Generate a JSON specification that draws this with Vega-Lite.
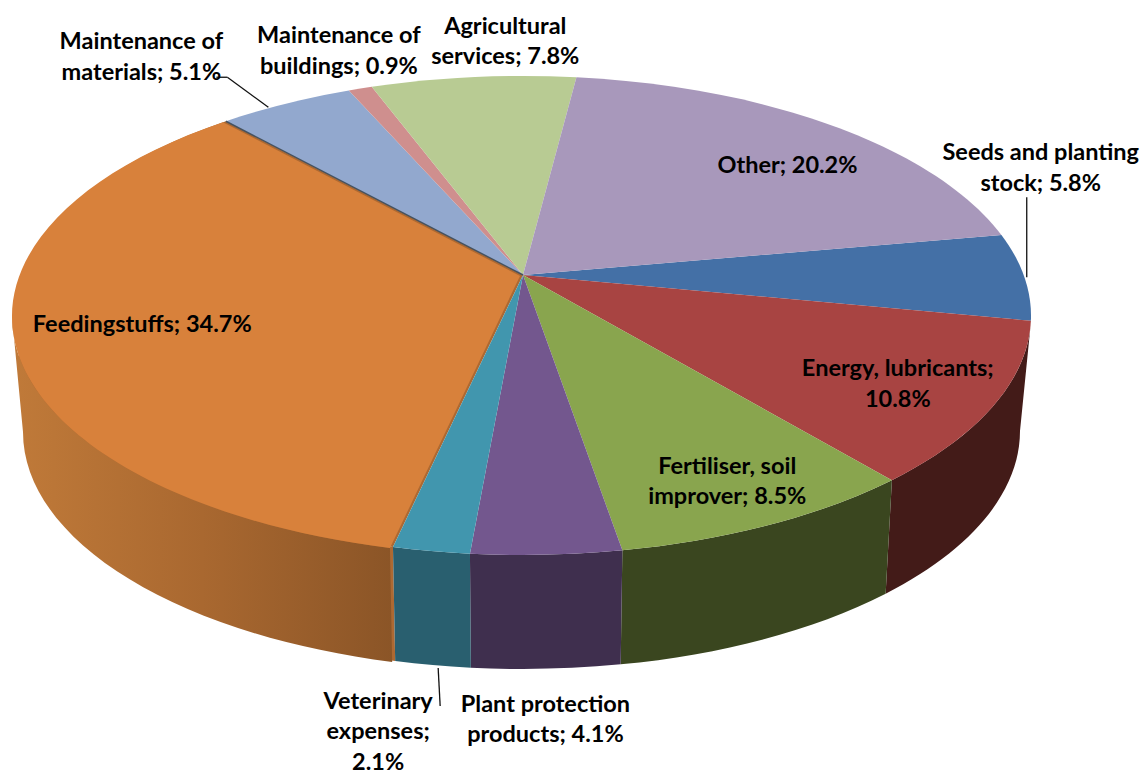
{
"$schema":"https://vega.github.io/schema/vega-lite/v6.json",
"width":1145,"height":773,"padding":0,"autosize":{"type":"pad"},
"background":"white",
"view":{"stroke":null},
"data":{"values":[
{"seq":1,"name":"Seeds and planting stock","share":5.8,"label":"Seeds and planting\nstock; 5.8%"},
{"seq":2,"name":"Energy, lubricants","share":10.8,"label":"Energy, lubricants;\n10.8%"},
{"seq":3,"name":"Fertiliser, soil improver","share":8.5,"label":"Fertiliser, soil\nimprover; 8.5%"},
{"seq":4,"name":"Plant protection products","share":4.1,"label":"Plant protection\nproducts; 4.1%"},
{"seq":5,"name":"Veterinary expenses","share":2.1,"label":"Veterinary\nexpenses;\n2.1%"},
{"seq":6,"name":"Feedingstuffs","share":34.7,"label":"Feedingstuffs; 34.7%"},
{"seq":7,"name":"Maintenance of materials","share":5.1,"label":"Maintenance of\nmaterials; 5.1%"},
{"seq":8,"name":"Maintenance of buildings","share":0.9,"label":"Maintenance of\nbuildings; 0.9%"},
{"seq":9,"name":"Agricultural services","share":7.8,"label":"Agricultural\nservices; 7.8%"},
{"seq":10,"name":"Other","share":20.2,"label":"Other; 20.2%"}
]},
"transform":[
{"stack":"share","sort":[{"field":"seq","order":"ascending"}],"as":["c0","c1"]},
{"calculate":"(-10+3.6*datum.c0)*PI/180","as":"th0"},
{"calculate":"(-10+3.6*datum.c1)*PI/180","as":"th1"},
{"calculate":"(datum.th0+datum.th1)/2","as":"thm"},
{"calculate":"datum.th0-0.171*cos(datum.th0)","as":"p0"},
{"calculate":"datum.th1-0.171*cos(datum.th1)","as":"p1"},
{"calculate":"datum.thm-0.171*cos(datum.thm)","as":"pm"},
{"calculate":"round(508*cos(datum.p0)*100)/100","as":"x0"},
{"calculate":"round(239.5*sin(datum.p0)*100)/100","as":"y0"},
{"calculate":"round(508*cos(datum.p1)*100)/100","as":"x1"},
{"calculate":"round(239.5*sin(datum.p1)*100)/100","as":"y1"},
{"calculate":"-datum.y1","as":"ny1"},
{"calculate":"'M0 -40.5L'+datum.x0+' '+datum.y0+'A508 239.5 0 '+(datum.p1-datum.p0>PI?1:0)+' 1 '+datum.x1+' '+datum.y1+'Z'","as":"topPath"},
{"calculate":"max(datum.p0,0.05)","as":"wa0"},
{"calculate":"min(datum.p1,PI)","as":"wa1"},
{"calculate":"round(508*cos(datum.wa0)*100)/100","as":"tx0"},
{"calculate":"round(239.5*sin(datum.wa0)*100)/100","as":"ty0"},
{"calculate":"round(508*cos(datum.wa1)*100)/100","as":"tx1"},
{"calculate":"round(239.5*sin(datum.wa1)*100)/100","as":"ty1"},
{"calculate":"round(clamp(datum.tx0*0.983,-497,497)*100)/100","as":"bx0"},
{"calculate":"round((115.5+238*sqrt(max(0,1-pow(datum.bx0/497,2))))*100)/100","as":"by0"},
{"calculate":"round(clamp(datum.tx1*0.983,-497,497)*100)/100","as":"bx1"},
{"calculate":"round((115.5+238*sqrt(max(0,1-pow(datum.bx1/497,2))))*100)/100","as":"by1"},
{"calculate":"'M'+datum.tx0+' '+datum.ty0+'A508 239.5 0 0 1 '+datum.tx1+' '+datum.ty1+'L'+datum.bx1+' '+datum.by1+'A497 238 0 0 0 '+datum.bx0+' '+datum.by0+'Z'","as":"wallPath"},
{"calculate":"508*cos(datum.pm)","as":"ax"},
{"calculate":"239.5*sin(datum.pm)","as":"ay"},
{"calculate":"datum.ax+{'Seeds and planting stock':16.5,'Energy, lubricants':-96.7,'Fertiliser, soil improver':-42.6,'Plant protection products':-1,'Veterinary expenses':-53,'Feedingstuffs':125,'Maintenance of materials':-144.3,'Maintenance of buildings':-21.4,'Agricultural services':31.9,'Other':-40.4}[datum.name]","as":"lx"},
{"calculate":"-(datum.ay+{'Seeds and planting stock':-135.4,'Energy, lubricants':-47.4,'Fertiliser, soil improver':-70.3,'Plant protection products':138.2,'Veterinary expenses':138.5,'Feedingstuffs':-25.2,'Maintenance of materials':-73.5,'Maintenance of buildings':-64.5,'Agricultural services':-62.2,'Other':29.8}[datum.name])","as":"ly"}
],
"layer":[
{"transform":[{"filter":"datum.name=='Feedingstuffs'"}],
 "mark":{"type":"point","filled":true,"size":4,"opacity":1,"color":"#ad6932"},
 "encoding":{"x":{"datum":0,"type":"quantitative","scale":{"domain":[-523,622],"nice":false,"zero":false},"axis":null},
 "y":{"datum":0,"type":"quantitative","scale":{"domain":[-457.5,315.5],"nice":false,"zero":false},"axis":null},
 "shape":{"field":"wallPath","type":"nominal","scale":null}}},
{"transform":[{"filter":"datum.name=='Feedingstuffs'"}],
 "mark":{"type":"point","filled":true,"size":4,"opacity":1,"color":"#ad6932"},
 "encoding":{"x":{"datum":0,"type":"quantitative","scale":{"domain":[-523,622],"nice":false,"zero":false},"axis":null},
 "y":{"datum":0,"type":"quantitative","scale":{"domain":[-457.5,315.5],"nice":false,"zero":false},"axis":null},
 "shape":{"field":"topPath","type":"nominal","scale":null}}},
{"transform":[{"filter":"datum.name=='Feedingstuffs'"}],
 "mark":{"type":"point","filled":true,"size":4,"opacity":1,"color":{"x1":0,"x2":1,"y1":0,"y2":0,"gradient":"linear","stops":[{"offset":0,"color":"#c07a39"},{"offset":0.5,"color":"#a96830"},{"offset":1,"color":"#8b5527"}]}},
 "encoding":{"x":{"datum":-3,"type":"quantitative","scale":{"domain":[-523,622],"nice":false,"zero":false},"axis":null},
 "y":{"datum":-1,"type":"quantitative","scale":{"domain":[-457.5,315.5],"nice":false,"zero":false},"axis":null},
 "shape":{"field":"wallPath","type":"nominal","scale":null}}},
{"transform":[{"filter":"datum.name=='Feedingstuffs'"}],
 "mark":{"type":"point","filled":true,"size":4,"opacity":1,"color":"#d8813b"},
 "encoding":{"x":{"datum":-3,"type":"quantitative","scale":{"domain":[-523,622],"nice":false,"zero":false},"axis":null},
 "y":{"datum":-1,"type":"quantitative","scale":{"domain":[-457.5,315.5],"nice":false,"zero":false},"axis":null},
 "shape":{"field":"topPath","type":"nominal","scale":null}}},
{"transform":[{"filter":"datum.wa1>datum.wa0 && datum.name!='Feedingstuffs'"}],
 "mark":{"type":"point","filled":true,"size":4,"opacity":1},
 "encoding":{"x":{"datum":0,"type":"quantitative","scale":{"domain":[-523,622],"nice":false,"zero":false},"axis":null},
 "y":{"datum":0,"type":"quantitative","scale":{"domain":[-457.5,315.5],"nice":false,"zero":false},"axis":null},
 "shape":{"field":"wallPath","type":"nominal","scale":null},
 "fill":{"field":"name","type":"nominal","legend":null,"scale":{"domain":["Seeds and planting stock","Energy, lubricants","Fertiliser, soil improver","Plant protection products","Veterinary expenses"],"range":["#431b18","#431b18","#3a461f","#3f2f4e","#295f6f"]}}}},
{"transform":[{"filter":"datum.name!='Feedingstuffs'"}],
 "mark":{"type":"point","filled":true,"size":4,"opacity":1},
 "encoding":{"x":{"datum":0,"type":"quantitative","scale":{"domain":[-523,622],"nice":false,"zero":false},"axis":null},
 "y":{"datum":0,"type":"quantitative","scale":{"domain":[-457.5,315.5],"nice":false,"zero":false},"axis":null},
 "shape":{"field":"topPath","type":"nominal","scale":null},
 "color":{"field":"name","type":"nominal","legend":null,"scale":{"domain":["Seeds and planting stock","Energy, lubricants","Fertiliser, soil improver","Plant protection products","Veterinary expenses","Maintenance of materials","Maintenance of buildings","Agricultural services","Other"],"range":["#4470a6","#a84442","#89a54e","#73578e","#4196ae","#92a8ce","#cf8f8e","#b8cb93","#a898bb"]}}}},
{"transform":[{"filter":"datum.name=='Feedingstuffs'"},{"calculate":"0","as":"xe"},{"calculate":"40.5","as":"ye"}],
 "mark":{"type":"rule","color":"#46525f","strokeWidth":1.5},
 "encoding":{"x":{"field":"x1","type":"quantitative","scale":{"domain":[-523,622],"nice":false,"zero":false},"axis":null},
 "y":{"field":"ny1","type":"quantitative","scale":{"domain":[-457.5,315.5],"nice":false,"zero":false},"axis":null},
 "x2":{"field":"xe"},"y2":{"field":"ye"}}},
{"transform":[{"filter":"indexof(['Seeds and planting stock','Veterinary expenses','Maintenance of materials'],datum.name)>=0"},
 {"calculate":"datum.ax+{'Seeds and planting stock':2.5,'Veterinary expenses':7,'Maintenance of materials':-17.3}[datum.name]","as":"l0x"},
 {"calculate":"-(datum.ay+{'Seeds and planting stock':0.6,'Veterinary expenses':117,'Maintenance of materials':3.5}[datum.name])","as":"l0y"},
 {"calculate":"datum.ax+{'Seeds and planting stock':2.5,'Veterinary expenses':9,'Maintenance of materials':-58.3}[datum.name]","as":"l1x"},
 {"calculate":"-(datum.ay+{'Seeds and planting stock':-79.4,'Veterinary expenses':155,'Maintenance of materials':-26.5}[datum.name])","as":"l1y"}],
 "mark":{"type":"rule","color":"#111111","strokeWidth":1.3},
 "encoding":{"x":{"field":"l0x","type":"quantitative","scale":{"domain":[-523,622],"nice":false,"zero":false},"axis":null},
 "y":{"field":"l0y","type":"quantitative","scale":{"domain":[-457.5,315.5],"nice":false,"zero":false},"axis":null},
 "x2":{"field":"l1x"},"y2":{"field":"l1y"}}},
{"transform":[{"filter":"datum.name=='Maintenance of materials'"},
 {"calculate":"datum.ax-58.3","as":"l0x"},{"calculate":"-(datum.ay-26.5)","as":"l0y"},{"calculate":"datum.ax-69.3","as":"l1x"}],
 "mark":{"type":"rule","color":"#111111","strokeWidth":1.3},
 "encoding":{"x":{"field":"l0x","type":"quantitative","scale":{"domain":[-523,622],"nice":false,"zero":false},"axis":null},
 "y":{"field":"l0y","type":"quantitative","scale":{"domain":[-457.5,315.5],"nice":false,"zero":false},"axis":null},
 "x2":{"field":"l1x"}}},
{"mark":{"type":"text","font":"Lato","fontWeight":"bold","fontSize":23.5,"color":"#000000","align":"center","baseline":"top","lineBreak":"\n","lineHeight":30.5},
 "encoding":{"x":{"field":"lx","type":"quantitative","scale":{"domain":[-523,622],"nice":false,"zero":false},"axis":null},
 "y":{"field":"ly","type":"quantitative","scale":{"domain":[-457.5,315.5],"nice":false,"zero":false},"axis":null},
 "text":{"field":"label"}}}
],
"resolve":{"scale":{"fill":"independent","color":"independent"}}
}
